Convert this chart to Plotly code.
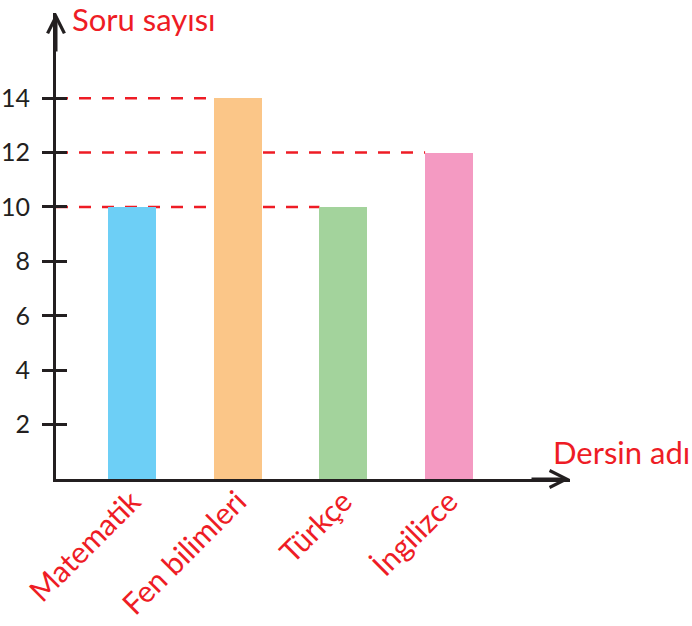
import plotly.graph_objects as go

categories = ["Matematik", "Fen bilimleri", "Türkçe", "İngilizce"]
values = [10, 14, 10, 12]
bar_colors = ["#6dcff6", "#fbc688", "#a3d39c", "#f49ac2"]
y_ticks = [2, 4, 6, 8, 10, 12, 14]
y_title = "Soru sayısı"
x_title = "Dersin adı"

RED = "#ee1c25"
INK = "#231f20"
FONT = "Lato"

x_range = [-0.719, 4.144]
y_range = [0, 17.13]
bar_w = 0.454

idx = list(range(len(categories)))
fig = go.Figure()
fig.add_trace(go.Bar(
    x=idx, y=values, width=bar_w,
    marker=dict(color=bar_colors, line=dict(width=0)),
    hoverinfo="skip", showlegend=False,
))
# helper (empty) trace so the overlay axis gets drawn
fig.add_trace(go.Scatter(x=[None], y=[None], yaxis="y2", showlegend=False, hoverinfo="skip"))

# dashed reference lines: from the axis to the left edge of the farthest bar of each value
for v in sorted(set(values)):
    last = max(i for i, val in enumerate(values) if val == v)
    fig.add_shape(type="line", xref="x", yref="y", layer="below",
                  x0=x_range[0], x1=last - bar_w / 2, y0=v, y1=v,
                  line=dict(color=RED, width=2.5, dash="12px,11px"))

# axis arrows
fig.add_annotation(xref="x domain", yref="y domain", x=1, y=0, ax=-40, ay=0,
                   text="", showarrow=True, arrowhead=5, arrowsize=1.1,
                   arrowwidth=3, arrowcolor=INK)
fig.add_annotation(xref="x domain", yref="y domain", x=0, y=1, ax=0, ay=40,
                   text="", showarrow=True, arrowhead=5, arrowsize=1.1,
                   arrowwidth=3, arrowcolor=INK)

# axis titles
fig.add_annotation(xref="paper", yref="paper", x=0, y=1, xshift=14, yshift=-6,
                   xanchor="left", yanchor="middle", showarrow=False,
                   text=y_title, font=dict(family=FONT, size=31, color=RED))
fig.add_annotation(xref="paper", yref="paper", x=1, y=0, xshift=-19, yshift=27,
                   xanchor="left", yanchor="middle", showarrow=False,
                   text=x_title, font=dict(family=FONT, size=31, color=RED))

fig.update_layout(
    width=692, height=626,
    margin=dict(l=56, r=122, t=13, b=147, autoexpand=False),
    paper_bgcolor="white", plot_bgcolor="white",
    bargap=0,
    xaxis=dict(
        range=x_range, tickmode="array", tickvals=idx, ticktext=categories,
        tickangle=-45, ticks="", showgrid=False, zeroline=False,
        showline=True, linecolor=INK, linewidth=3, automargin=False,
        ticklabelstandoff=-10,
        tickfont=dict(family=FONT, size=30, color=RED),
        fixedrange=True,
    ),
    yaxis=dict(
        range=y_range, tickmode="array", tickvals=y_ticks,
        ticks="outside", ticklen=11, tickwidth=3, tickcolor=INK,
        ticklabelstandoff=7, automargin=False,
        showgrid=False, zeroline=False, showline=True, linecolor=INK, linewidth=3,
        tickfont=dict(family=FONT, size=25, color=INK),
        fixedrange=True,
    ),
    yaxis2=dict(
        range=y_range, overlaying="y", side="left", tickmode="array", tickvals=y_ticks,
        ticks="inside", ticklen=11, tickwidth=3, tickcolor=INK, automargin=False,
        showticklabels=False, showgrid=False, zeroline=False, showline=False,
        fixedrange=True,
    ),
)

# remove the default 8px page margin so the figure fills the window exactly
fig.write_html("out.html", config={"displayModeBar": False},
               post_script="document.body.style.margin='0';")
